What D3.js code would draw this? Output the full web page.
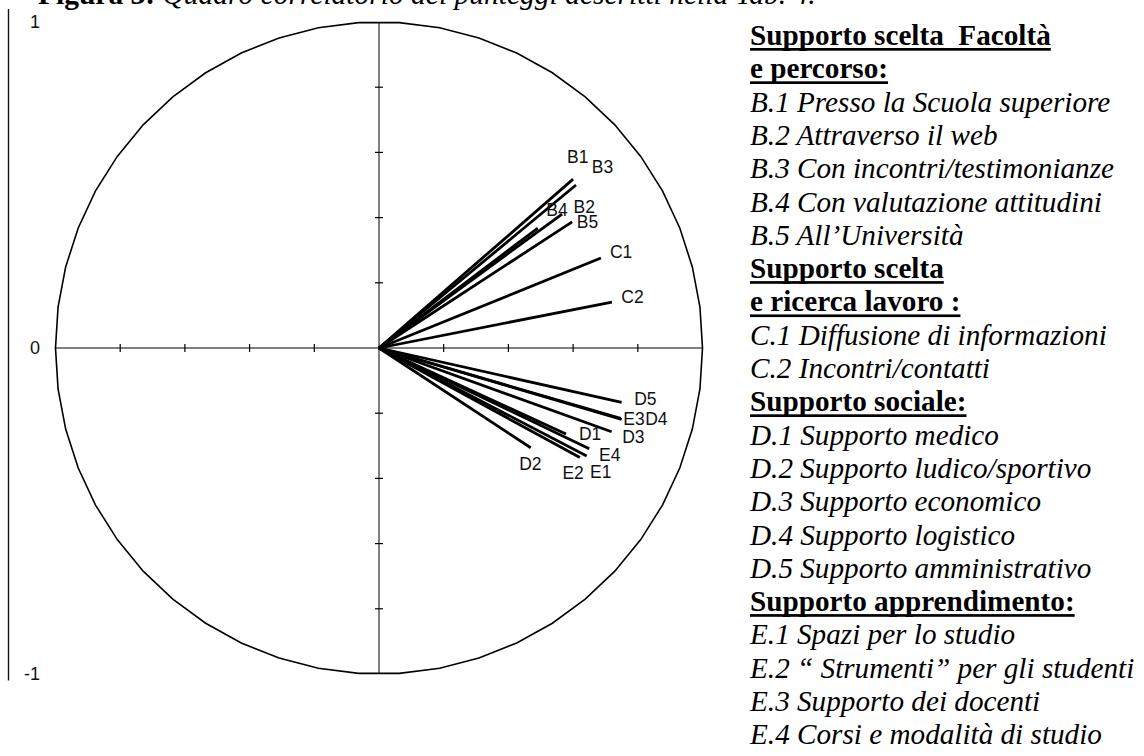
<!DOCTYPE html>
<html>
<head>
<meta charset="utf-8">
<script src="https://cdn.jsdelivr.net/npm/d3@7"></script>
<style>
  body { margin: 0; background: #fff; }
  svg { display: block; }
  .serif { font-family: "Liberation Serif", "Times New Roman", serif; }
  .sans { font-family: "Liberation Sans", Arial, sans-serif; }
</style>
</head>
<body>
<svg id="chart" width="1144" height="756"></svg>
<script>
// Variable loadings on the first two factors (correlation circle)
const vectorNames = ["B1", "B3", "B2", "B4", "B5", "C1", "C2", "D5", "E3", "D4", "D3", "D1", "E4", "E1", "E2", "D2"];
const loadX = [0.600, 0.609, 0.566, 0.491, 0.597, 0.686, 0.720, 0.750, 0.747, 0.750, 0.719, 0.578, 0.650, 0.642, 0.621, 0.469];
const loadY = [0.518, 0.500, 0.411, 0.368, 0.387, 0.276, 0.141, -0.167, -0.216, -0.219, -0.257, -0.264, -0.309, -0.331, -0.336, -0.306];

// Pixel nudges for the vector labels so they do not collide
const labelNudge = [[-6, -22], [15.7, -18.3], [11.5, -7.3], [8.5, -18], [4.7, 0.3], [9, -6], [9.4, -5],
                    [12.6, -4], [2.6, 0], [23.5, -1], [10.6, 5], [13, -0.7], [9.7, 6.3], [3.3, 15.7], [-17.5, 15], [-11.5, 15.6]];

const tickValues = [-0.8, -0.6, -0.4, -0.2, 0.2, 0.4, 0.6, 0.8];
const yLabels = [1, 0, -1];
const frameY = [1.04, -1.02];

const titleBold = "Figura 3:";
const titleItalic = " Quadro correlatorio dei punteggi descritti nella Tab. 4.";

// Legend lines and which of them are section headings
const legendText = [
  "Supporto scelta  Facoltà", "e percorso:",
  "B.1 Presso la Scuola superiore", "B.2 Attraverso il web", "B.3 Con incontri/testimonianze",
  "B.4 Con valutazione attitudini", "B.5 All’Università",
  "Supporto scelta", "e ricerca lavoro :",
  "C.1 Diffusione di informazioni", "C.2 Incontri/contatti",
  "Supporto sociale:",
  "D.1 Supporto medico", "D.2 Supporto ludico/sportivo", "D.3 Supporto economico",
  "D.4 Supporto logistico", "D.5 Supporto amministrativo",
  "Supporto apprendimento:",
  "E.1 Spazi per lo studio", "E.2 “ Strumenti” per gli studenti", "E.3 Supporto dei docenti",
  "E.4 Corsi e modalità di studio"
];
const legendHeading = [true, true, false, false, false, false, false, true, true, false, false, true,
                       false, false, false, false, false, true, false, false, false, false];

const svg = d3.select("#chart");

const x = d3.scaleLinear().domain([-1, 1]).range([379 - 323.5, 379 + 323.5]);
const y = d3.scaleLinear().domain([1, -1]).range([348 - 326, 348 + 326]);

// Title (runs off the top edge of the page)
const title = svg.append("text").attr("class", "serif")
  .attr("x", 38).attr("y", 4).attr("font-size", 29.5).style("white-space", "pre");
title.append("tspan").attr("font-weight", "bold").text(titleBold);
title.append("tspan").attr("font-style", "italic").text(titleItalic);

// Left frame line with its labels
svg.append("line")
  .attr("x1", 8.5).attr("x2", 8.5)
  .attr("y1", y(frameY[0])).attr("y2", y(frameY[1]))
  .attr("stroke", "#111").attr("stroke-width", 1.4);

svg.selectAll("text.ylab").data(yLabels).join("text")
  .attr("class", "ylab sans")
  .attr("x", 40).attr("y", d => y(d)).attr("dy", "0.36em")
  .attr("text-anchor", "end").attr("font-size", 18).attr("fill", "#111")
  .text(d => d);

// Central axes
svg.append("line")
  .attr("x1", x(-1)).attr("x2", x(1)).attr("y1", y(0)).attr("y2", y(0))
  .attr("stroke", "#808080").attr("stroke-width", 2);
svg.append("line")
  .attr("x1", x(0)).attr("x2", x(0)).attr("y1", y(1)).attr("y2", y(-1))
  .attr("stroke", "#808080").attr("stroke-width", 2);

svg.selectAll("line.xtick").data(tickValues).join("line")
  .attr("class", "xtick")
  .attr("x1", d => x(d)).attr("x2", d => x(d))
  .attr("y1", y(0) - 4).attr("y2", y(0) + 4)
  .attr("stroke", "#000").attr("stroke-width", 1.2);
svg.selectAll("line.ytick").data(tickValues).join("line")
  .attr("class", "ytick")
  .attr("x1", x(0) - 4).attr("x2", x(0) + 4)
  .attr("y1", d => y(d)).attr("y2", d => y(d))
  .attr("stroke", "#000").attr("stroke-width", 1.2);

// Unit correlation circle, drawn as a fine polygon
const segs = 50;
const circlePts = d3.range(segs + 1).map(i => [Math.cos(2 * Math.PI * i / segs), Math.sin(2 * Math.PI * i / segs)]);
svg.append("path")
  .attr("d", d3.line().x(d => x(d[0])).y(d => y(d[1]))(circlePts))
  .attr("fill", "none").attr("stroke", "#000").attr("stroke-width", 1.6);

// Loading vectors
const vecs = vectorNames.map((n, i) => ({ name: n, vx: loadX[i], vy: loadY[i], nudge: labelNudge[i] }));
svg.selectAll("line.vec").data(vecs).join("line")
  .attr("class", "vec")
  .attr("x1", x(0)).attr("y1", y(0))
  .attr("x2", d => x(d.vx)).attr("y2", d => y(d.vy))
  .attr("stroke", "#000").attr("stroke-width", 2.8).attr("stroke-linecap", "butt");

svg.selectAll("text.veclab").data(vecs).join("text")
  .attr("class", "veclab sans")
  .attr("x", d => x(d.vx) + d.nudge[0])
  .attr("y", d => y(d.vy) + d.nudge[1])
  .attr("dy", "0.36em")
  .attr("font-size", 17.5).attr("fill", "#111")
  .text(d => d.name);

// Legend
const legend = svg.append("g").attr("class", "serif");
legendText.forEach((t, i) => {
  const by = 45 + i * 33.3;
  const txt = legend.append("text")
    .attr("x", 750).attr("y", by)
    .attr("font-size", 29.2)
    .style("white-space", "pre")
    .attr("font-weight", legendHeading[i] ? "bold" : "normal")
    .attr("font-style", legendHeading[i] ? "normal" : "italic")
    .attr("fill", "#000")
    .text(t);
  if (legendHeading[i]) {
    const w = txt.node().getComputedTextLength();
    legend.append("rect")
      .attr("x", 750).attr("y", by + 3)
      .attr("width", w).attr("height", 2.7)
      .attr("fill", "#000");
  }
});
</script>
</body>
</html>
